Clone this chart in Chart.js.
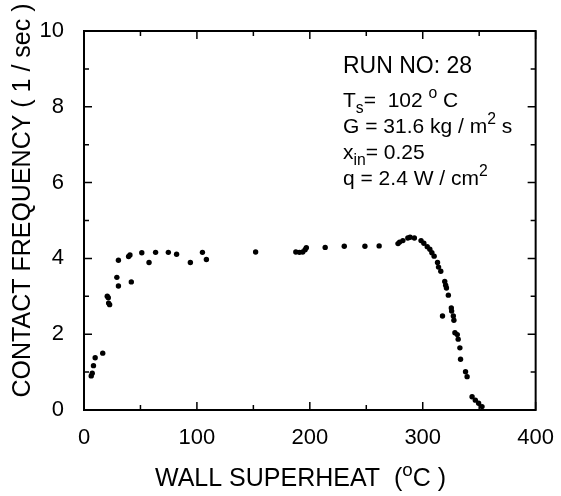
<!DOCTYPE html>
<html>
<head>
<meta charset="utf-8">
<script src="https://cdn.jsdelivr.net/npm/chart.js@4"></script>
<style>
html,body{margin:0;padding:0;background:#fff;}
#wrap{width:561px;height:496px;}
</style>
</head>
<body>
<div id="wrap"><canvas id="c" width="561" height="496"></canvas></div>
<script>
// ---- data ----
const wallSuperheat = [
  6.4, 7.3, 8.4, 9.9, 16.6, 20.6, 21.5, 21.8, 22.7, 29.1, 30.5, 30.5, 39.5, 40.7, 41.9,
  51.2, 57.6, 63.4, 74.7, 82.0, 94.2, 104.9, 108.4,
  152.0, 187.6, 190.8, 193.7, 195.8, 196.9, 213.6, 230.5, 248.8,
  261.4, 278.1, 279.5, 282.4, 286.8, 288.8, 292.6, 298.5,
  301.0, 304.0, 306.3, 308.1, 310.1, 313.1, 314.0, 316.0, 319.5, 320.3, 321.0, 322.7,
  325.3, 325.6, 317.5, 327.1, 327.6, 328.5, 330.6, 331.4, 332.9, 333.5, 337.9, 339.3,
  343.7, 346.6, 349.5, 352.5
];
const contactFrequency = [
  0.90, 0.97, 1.17, 1.38, 1.50, 3.00, 2.96, 2.82, 2.78, 3.50, 3.27, 3.95, 4.05, 4.09, 3.38,
  4.15, 3.89, 4.16, 4.16, 4.11, 3.89, 4.16, 3.97,
  4.17, 4.17, 4.16, 4.17, 4.23, 4.28, 4.29, 4.32, 4.32,
  4.33, 4.39, 4.43, 4.47, 4.54, 4.56, 4.54, 4.47,
  4.40, 4.31, 4.24, 4.15, 4.06, 3.89, 3.77, 3.66, 3.39, 3.29, 3.22, 3.03,
  2.69, 2.61, 2.48, 2.48, 2.37, 2.04, 1.99, 1.87, 1.64, 1.34, 1.01, 0.88,
  0.35, 0.26, 0.18, 0.09
];
const xTicks = [0, 100, 200, 300, 400];
const yTicks = [0, 2, 4, 6, 8, 10];
const xTitle = ['WALL SUPERHEAT  (', 'o', 'C )'];
const yTitle = 'CONTACT FREQUENCY ( 1 / sec )';
const runInfo = [
  [['RUN NO: 28', 'n']],
  [['T', 'n'], ['s', 'sub'], ['=  102 ', 'n'], ['o', 'sup'], [' C', 'n']],
  [['G = 31.6 kg / m', 'n'], ['2', 'sup'], [' s', 'n']],
  [['x', 'n'], ['in', 'sub'], ['= 0.25', 'n']],
  [['q = 2.4 W / cm', 'n'], ['2', 'sup']]
];

const FONT = '"Liberation Sans", Arial, Helvetica, sans-serif';
const points = wallSuperheat.map((x, i) => ({x: x, y: contactFrequency[i]}));

function drawRich(ctx, parts, x, y, size) {
  let cx = x;
  for (const [t, kind] of parts) {
    let fs = size, dy = 0;
    if (kind === 'sub') { fs = size * 0.75; dy = size * 0.28; }
    if (kind === 'sup') { fs = size * 0.75; dy = -size * 0.42; }
    ctx.font = fs + 'px ' + FONT;
    ctx.fillText(t, cx, y + dy);
    cx += ctx.measureText(t).width;
  }
}

const decor = {
  id: 'decor',
  afterDraw(chart) {
    const ctx = chart.ctx, a = chart.chartArea;
    const xs = chart.scales.x, ys = chart.scales.y;
    ctx.save();
    ctx.strokeStyle = '#000';
    ctx.fillStyle = '#000';
    // frame
    ctx.lineWidth = 2;
    ctx.strokeRect(a.left, a.top, a.right - a.left, a.bottom - a.top);
    // ticks (inward, all four sides)
    ctx.lineWidth = 1.5;
    ctx.beginPath();
    for (let v = 0; v <= 400; v += 50) {
      const px = xs.getPixelForValue(v);
      const len = (v % 100 === 0) ? 8 : 5;
      ctx.moveTo(px, a.bottom); ctx.lineTo(px, a.bottom - len);
      ctx.moveTo(px, a.top); ctx.lineTo(px, a.top + len);
    }
    for (let v = 0; v <= 10; v += 1) {
      const py = ys.getPixelForValue(v);
      const len = (v % 2 === 0) ? 8 : 5;
      ctx.moveTo(a.left, py); ctx.lineTo(a.left + len, py);
      ctx.moveTo(a.right, py); ctx.lineTo(a.right - len, py);
    }
    ctx.stroke();
    // y title
    ctx.save();
    ctx.translate(23, (a.top + a.bottom) / 2 - 20);
    ctx.rotate(-Math.PI / 2);
    ctx.font = '25px ' + FONT;
    ctx.textAlign = 'center';
    ctx.textBaseline = 'middle';
    ctx.fillText(yTitle, 0, 0);
    ctx.restore();
    // x title
    ctx.textAlign = 'left';
    ctx.textBaseline = 'alphabetic';
    drawRich(ctx, [[xTitle[0], 'n'], [xTitle[1], 'sup'], [xTitle[2], 'n']], 155, 486, 25);
    // run info
    drawRich(ctx, runInfo[0], 343, 73, 23);
    const base = [107, 133, 159, 185];
    for (let i = 1; i < runInfo.length; i++) drawRich(ctx, runInfo[i], 343, base[i - 1], 21);
    ctx.restore();
  }
};

new Chart(document.getElementById('c'), {
  type: 'scatter',
  data: {
    datasets: [{
      data: points,
      backgroundColor: '#000',
      borderColor: '#000',
      pointRadius: 2.7,
      pointHoverRadius: 2.7,
      borderWidth: 0
    }]
  },
  options: {
    responsive: false,
    animation: false,
    events: [],
    layout: { padding: { top: 31, right: 20, left: 0, bottom: 0 } },
    plugins: { legend: { display: false }, tooltip: { enabled: false } },
    scales: {
      x: {
        type: 'linear', min: 0, max: 400,
        afterFit(s) { s.height = 86; },
        afterBuildTicks(s) { s.ticks = xTicks.map(v => ({value: v})); },
        grid: { display: false },
        border: { display: false },
        ticks: { color: '#000', font: { family: FONT, size: 22 }, padding: 7, maxRotation: 0 }
      },
      y: {
        type: 'linear', min: 0, max: 10,
        afterFit(s) { s.width = 84; },
        afterBuildTicks(s) { s.ticks = yTicks.map(v => ({value: v})); },
        grid: { display: false },
        border: { display: false },
        ticks: { color: '#000', font: { family: FONT, size: 22 }, padding: 12 }
      }
    }
  },
  plugins: [decor]
});
</script>
</body>
</html>
